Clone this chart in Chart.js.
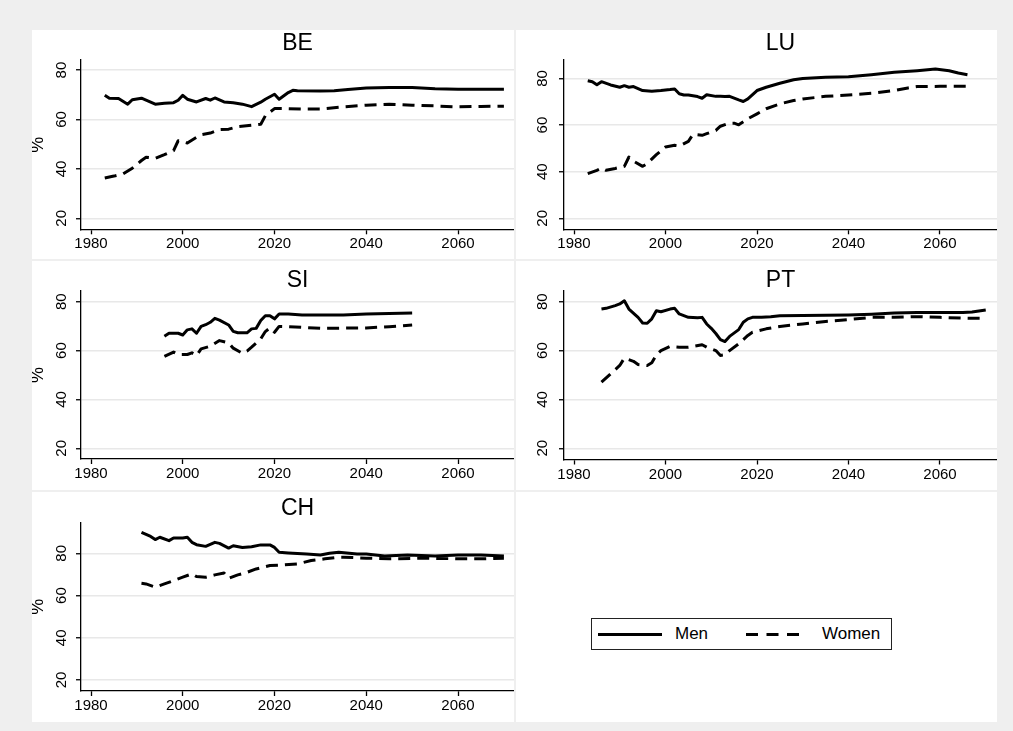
<!DOCTYPE html>
<html>
<head>
<meta charset="utf-8">
<script src="https://cdn.jsdelivr.net/npm/chart.js@4.4.1/dist/chart.umd.min.js"></script>
<style>
  html, body { margin: 0; padding: 0; }
  body {
    width: 1013px; height: 731px; position: relative; overflow: hidden;
    background: #efefef;
    font-family: "Liberation Sans", Arial, Helvetica, sans-serif;
  }
  .panel { position: absolute; background: #fff; }
  .panel canvas { display: block; }
  #legend {
    position: absolute; left: 591px; top: 618px; width: 301px; height: 32px;
    box-sizing: border-box; border: 1px solid #222; background: #fff;
  }
  #legend svg { position: absolute; left: 0; top: 0; }
  #legend span {
    position: absolute; top: 5px; font-size: 17px; line-height: 20px; color: #000;
  }
</style>
</head>
<body>

<div class="panel" style="left:32px;top:30px;width:482px;height:229px"><canvas id="be" width="482" height="229"></canvas></div>
<div class="panel" style="left:516px;top:30px;width:481px;height:229px"><canvas id="lu" width="481" height="229"></canvas></div>
<div class="panel" style="left:32px;top:261px;width:482px;height:229px"><canvas id="si" width="482" height="229"></canvas></div>
<div class="panel" style="left:516px;top:261px;width:481px;height:229px"><canvas id="pt" width="481" height="229"></canvas></div>
<div class="panel" style="left:32px;top:492px;width:482px;height:230px"><canvas id="ch" width="482" height="230"></canvas></div>
<div class="panel" style="left:516px;top:492px;width:481px;height:230px">
</div>
<div id="legend">
  <svg width="301" height="32">
    <line x1="6" y1="15.5" x2="70" y2="15.5" stroke="#000" stroke-width="3"/>
    <line x1="154" y1="15.5" x2="212" y2="15.5" stroke="#000" stroke-width="3" stroke-dasharray="12 8.5"/>
  </svg>
  <span id="lgMen" style="left:83px"></span>
  <span id="lgWomen" style="left:230px"></span>
</div>

<script>
// Axis ticks shared by every panel
const xTicks = [1980, 2000, 2020, 2040, 2060];
const yTicks = [20, 40, 60, 80];
const seriesNames = ['Men', 'Women'];

// Belgium
const beMenYears   = [1983,1984,1986,1988,1989,1991,1992,1994,1996,1998,1999,2000,2001,2003,2005,2006,2007,2009,2011,2013,2015,2017,2018,2020,2021,2023,2024,2025,2030,2033,2036,2040,2045,2050,2055,2060,2070];
const beMen        = [69.8,68.6,68.5,66.2,68.0,68.6,67.8,66.2,66.6,66.8,67.8,69.8,68.2,67.1,68.5,67.8,68.7,67.1,66.8,66.2,65.2,67.0,68.2,70.2,68.2,70.9,71.8,71.6,71.5,71.6,72.1,72.7,72.9,72.9,72.4,72.2,72.2];
const beWomenYears = [1983,1985,1987,1989,1991,1992,1994,1996,1998,1999,2001,2003,2004,2006,2008,2010,2012,2015,2017,2018,2020,2023,2026,2030,2035,2040,2045,2050,2055,2060,2065,2070];
const beWomen      = [36.3,37.1,38.0,40.3,43.4,44.7,44.3,45.8,47.4,51.4,50.5,52.8,53.8,54.5,55.9,56.1,57.1,57.7,58.1,61.5,64.4,64.4,64.2,64.2,65.1,65.8,66.2,65.8,65.5,65.1,65.3,65.4];

// Luxembourg
const luMenYears   = [1983,1984,1985,1986,1988,1990,1991,1992,1993,1995,1997,1999,2001,2002,2003,2004,2005,2007,2008,2009,2011,2012,2013,2014,2016,2017,2018,2020,2022,2025,2028,2030,2035,2040,2045,2050,2055,2059,2062,2064,2066];
const luMen        = [79.0,78.6,77.3,78.6,77.2,76.2,76.9,76.2,76.5,74.8,74.5,74.8,75.2,75.5,73.4,72.9,72.9,72.2,71.5,73.0,72.3,72.3,72.2,72.3,70.8,70.1,71.2,74.8,76.2,77.9,79.4,80.0,80.5,80.7,81.6,82.6,83.3,84.0,83.3,82.3,81.6];
const luWomenYears = [1983,1985,1986,1987,1989,1991,1992,1993,1995,1996,1998,2000,2002,2003,2005,2006,2008,2009,2011,2012,2014,2015,2016,2018,2020,2022,2025,2028,2030,2035,2040,2045,2050,2053,2055,2060,2066];
const luWomen      = [39.2,40.6,41.6,40.6,41.4,42.3,46.3,44.5,42.3,43.5,47.3,50.6,51.3,51.0,53.0,56.0,55.6,56.3,57.7,59.5,60.8,60.8,60.1,62.7,64.8,67.0,69.1,70.5,71.2,72.3,72.9,73.6,74.8,75.9,76.5,76.6,76.6];

// Slovenia
const siMenYears   = [1996,1997,1999,2000,2001,2002,2003,2004,2005,2006,2007,2008,2010,2011,2012,2014,2015,2016,2017,2018,2019,2020,2021,2023,2026,2030,2035,2040,2045,2050];
const siMen        = [65.9,67.1,67.1,66.4,68.5,68.9,67.1,69.9,70.6,71.6,73.2,72.5,70.5,67.9,67.3,67.3,68.9,69.1,72.3,74.3,74.3,73.0,75.0,75.0,74.6,74.6,74.6,75.0,75.2,75.4];
const siWomenYears = [1996,1998,1999,2001,2002,2003,2004,2006,2008,2010,2011,2013,2014,2015,2017,2018,2019,2020,2021,2023,2026,2030,2040,2045,2050];
const siWomen      = [57.6,59.4,58.4,58.4,59.1,58.0,60.7,61.8,64.1,63.2,61.0,58.9,59.8,61.4,64.8,67.8,69.3,67.5,69.9,69.8,69.5,69.1,69.3,69.8,70.5];

// Portugal
const ptMenYears   = [1986,1987,1989,1990,1991,1992,1994,1995,1996,1997,1998,1999,2001,2002,2003,2005,2007,2008,2009,2010,2011,2012,2013,2014,2016,2017,2018,2019,2021,2023,2025,2030,2040,2045,2050,2055,2060,2065,2067,2070];
const ptMen        = [77.0,77.3,78.4,79.1,80.4,77.0,73.6,71.3,71.2,73.0,76.3,75.9,77.0,77.3,75.0,73.6,73.4,73.6,70.9,69.1,67.0,64.5,63.7,65.8,68.6,71.6,73.0,73.6,73.6,73.9,74.3,74.4,74.6,74.9,75.4,75.6,75.6,75.6,75.8,76.6];
const ptWomenYears = [1986,1988,1990,1991,1993,1994,1996,1997,1998,1999,2001,2003,2005,2006,2008,2009,2011,2012,2013,2014,2016,2018,2019,2022,2025,2030,2035,2040,2045,2050,2055,2060,2065,2070];
const ptWomen      = [47.1,50.5,53.9,56.9,55.6,54.3,53.9,55.0,58.3,60.0,61.7,61.4,61.4,61.7,62.4,61.4,60.0,58.0,58.3,60.0,62.8,66.2,67.5,68.9,69.9,70.9,71.9,72.7,73.6,73.6,73.9,73.6,73.3,73.2];

// Switzerland
const chMenYears   = [1991,1993,1994,1995,1997,1998,2000,2001,2002,2003,2005,2007,2008,2010,2011,2013,2015,2017,2019,2020,2021,2023,2027,2030,2032,2034,2038,2040,2044,2049,2055,2060,2065,2070];
const chMen        = [89.9,88.0,86.5,87.6,86.0,87.3,87.3,87.6,85.2,84.1,83.3,85.2,84.7,82.5,83.6,82.8,83.1,84.0,84.0,82.8,80.5,80.2,79.7,79.2,80.0,80.5,79.7,79.7,78.7,79.2,78.7,79.2,79.2,78.7];
const chWomenYears = [1991,1992,1994,1996,1998,2000,2002,2003,2005,2007,2009,2010,2012,2014,2016,2019,2022,2025,2028,2031,2034,2035,2040,2045,2053,2060,2065,2070];
const chWomen      = [65.8,65.5,64.0,65.5,67.1,68.7,70.3,69.0,68.7,69.8,70.7,68.2,69.8,71.0,72.6,74.2,74.5,75.0,76.6,77.4,78.2,78.2,77.7,77.4,77.7,77.4,77.4,77.7];

const FONT = '"Liberation Sans", Arial, Helvetica, sans-serif';
Chart.defaults.font.family = FONT;
Chart.defaults.color = '#000';

function points(years, values) {
  return years.map((yr, i) => ({ x: yr, y: values[i] }));
}

function drawPanel(id, title, menYears, men, womenYears, women, g) {
  return new Chart(document.getElementById(id), {
    type: 'line',
    data: {
      datasets: [
        { label: seriesNames[0], data: points(menYears, men), borderColor: '#000', borderWidth: 3,
          pointRadius: 0, tension: 0, borderJoinStyle: 'round', fill: false },
        { label: seriesNames[1], data: points(womenYears, women), borderColor: '#000', borderWidth: 3,
          borderDash: [12, 7], pointRadius: 0, tension: 0, borderJoinStyle: 'round', fill: false }
      ]
    },
    options: {
      responsive: false, animation: false, devicePixelRatio: 1, events: [],
      layout: { padding: 0 },
      plugins: {
        legend: { display: false },
        tooltip: { enabled: false },
        title: {
          display: true, text: title, fullSize: false, color: '#000',
          font: { family: FONT, size: 23, weight: 'normal', lineHeight: 0.8 },
          padding: { top: g.tTop, bottom: g.tBottom }
        }
      },
      scales: {
        x: {
          type: 'linear', min: g.xMin, max: g.xMax,
          afterBuildTicks: s => { s.ticks = xTicks.map(v => ({ value: v })); },
          afterFit: s => { s.height = g.xH; },
          grid: { drawOnChartArea: false, drawTicks: true, tickLength: 5, tickColor: '#000', tickWidth: 1.3 },
          border: { display: true, color: '#000', width: 1.3 },
          ticks: { color: '#000', font: { family: FONT, size: 15 }, padding: 1, maxRotation: 0,
                   autoSkip: false, callback: v => String(v) }
        },
        y: {
          type: 'linear', min: g.yMin, max: g.yMax,
          afterBuildTicks: s => { s.ticks = yTicks.map(v => ({ value: v })); },
          afterFit: s => { s.width = g.yW; },
          grid: { color: '#e8e8e8', lineWidth: 1.5, drawTicks: true, tickLength: 5, tickColor: '#000', tickWidth: 1.3 },
          border: { display: true, color: '#000', width: 1.3 },
          ticks: { color: '#000', font: { family: FONT, size: 15 }, padding: g.yPad,
                   minRotation: 90, maxRotation: 90, crossAlign: 'center', callback: v => String(v) },
          title: { display: g.pct, text: '%', color: '#000',
                   font: { family: FONT, size: 18, lineHeight: 0.7 }, padding: 0 }
        }
      }
    }
  });
}

drawPanel('be', 'BE', beMenYears, beMen, beWomenYears, beWomen,
  { xMin: 1977.82, xMax: 2072.2, yMin: 15.57, yMax: 84.03, yW: 49, xH: 29.7, tTop: 4.2, tBottom: 7.5, yPad: 6, pct: true });
drawPanel('lu', 'LU', luMenYears, luMen, luWomenYears, luWomen,
  { xMin: 1977.81, xMax: 2072.46, yMin: 15.3, yMax: 87.85, yW: 48, xH: 29.7, tTop: 4.2, tBottom: 7.5, yPad: 8, pct: false });
drawPanel('si', 'SI', siMenYears, siMen, siWomenYears, siWomen,
  { xMin: 1977.82, xMax: 2072.2, yMin: 15.64, yMax: 84.48, yW: 49, xH: 31, tTop: 10.2, tBottom: 1.2, yPad: 6, pct: true });
drawPanel('pt', 'PT', ptMenYears, ptMen, ptWomenYears, ptWomen,
  { xMin: 1977.81, xMax: 2072.46, yMin: 15.4, yMax: 84.48, yW: 48, xH: 30.5, tTop: 10.2, tBottom: 1.2, yPad: 8, pct: false });
drawPanel('ch', 'CH', chMenYears, chMen, chWomenYears, chWomen,
  { xMin: 1977.82, xMax: 2072.2, yMin: 14.8, yMax: 94.6, yW: 49, xH: 31, tTop: 7.2, tBottom: 4.9, yPad: 6, pct: true });

document.getElementById('lgMen').textContent = seriesNames[0];
document.getElementById('lgWomen').textContent = seriesNames[1];
</script>
</body>
</html>
